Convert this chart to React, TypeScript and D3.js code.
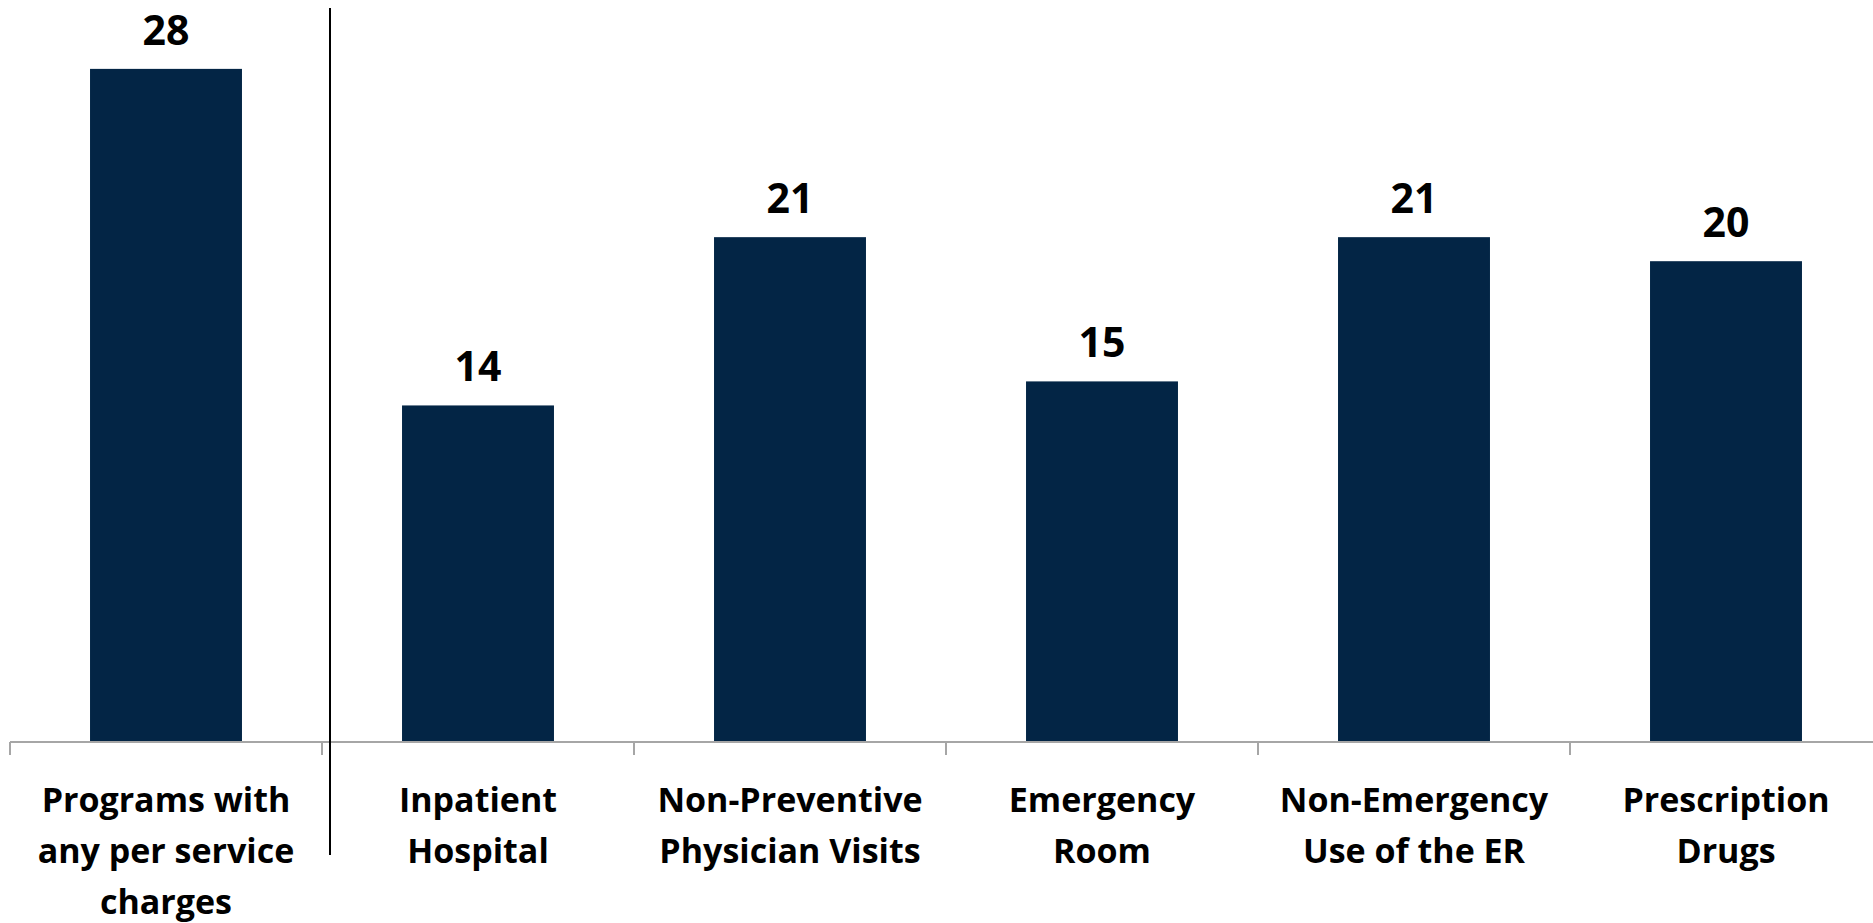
import React from "react";
import * as d3 from "d3";

const categories = [
  "Programs with\nany per service\ncharges",
  "Inpatient\nHospital",
  "Non-Preventive\nPhysician Visits",
  "Emergency\nRoom",
  "Non-Emergency\nUse of the ER",
  "Prescription\nDrugs",
];
const values = [28, 14, 21, 15, 21, 20];
const yDomain = [0, 30];

const W = 1873;
const H = 923;
const FONT = "'Open Sans', Lato, sans-serif";

export default function App() {
  const axisY = 742;
  const x = d3.scaleBand<number>().domain(d3.range(categories.length)).range([10, 1882]).padding(0);
  const y = d3.scaleLinear().domain(yDomain).range([axisY, axisY - 30 * 24.04]);
  const barW = x.bandwidth() * 0.487;
  const boundaries = d3.range(categories.length + 1).map((i) => 10 + i * x.step());

  return (
    <svg width={W} height={H} style={{ position: "absolute", left: 0, top: 0, background: "#fff" }}>
      {values.map((v, i) => {
        const cx = (x(i) as number) + x.bandwidth() / 2;
        return (
          <g key={i}>
            <rect x={cx - barW / 2} y={y(v)} width={barW} height={axisY - y(v)} fill="#032545" />
            <text x={cx} y={y(v) - 24} textAnchor="middle" fontFamily={FONT} fontWeight={700} fontSize={41} fill="#000">
              {v}
            </text>
          </g>
        );
      })}
      <line x1={10} x2={W} y1={axisY} y2={axisY} stroke="#a6a6a6" strokeWidth={2} />
      {boundaries.map((b, i) => (
        <line key={i} x1={b} x2={b} y1={axisY} y2={755} stroke="#a6a6a6" strokeWidth={2} />
      ))}
      <line x1={330} x2={330} y1={8} y2={855} stroke="#000" strokeWidth={2} />
      {categories.map((c, i) => {
        const cx = (x(i) as number) + x.bandwidth() / 2;
        return (
          <text key={i} textAnchor="middle" fontFamily={FONT} fontWeight={700} fontSize={34} fill="#000">
            {c.split("\n").map((ln, j) => (
              <tspan key={j} x={cx} y={812 + j * 51}>
                {ln}
              </tspan>
            ))}
          </text>
        );
      })}
    </svg>
  );
}
